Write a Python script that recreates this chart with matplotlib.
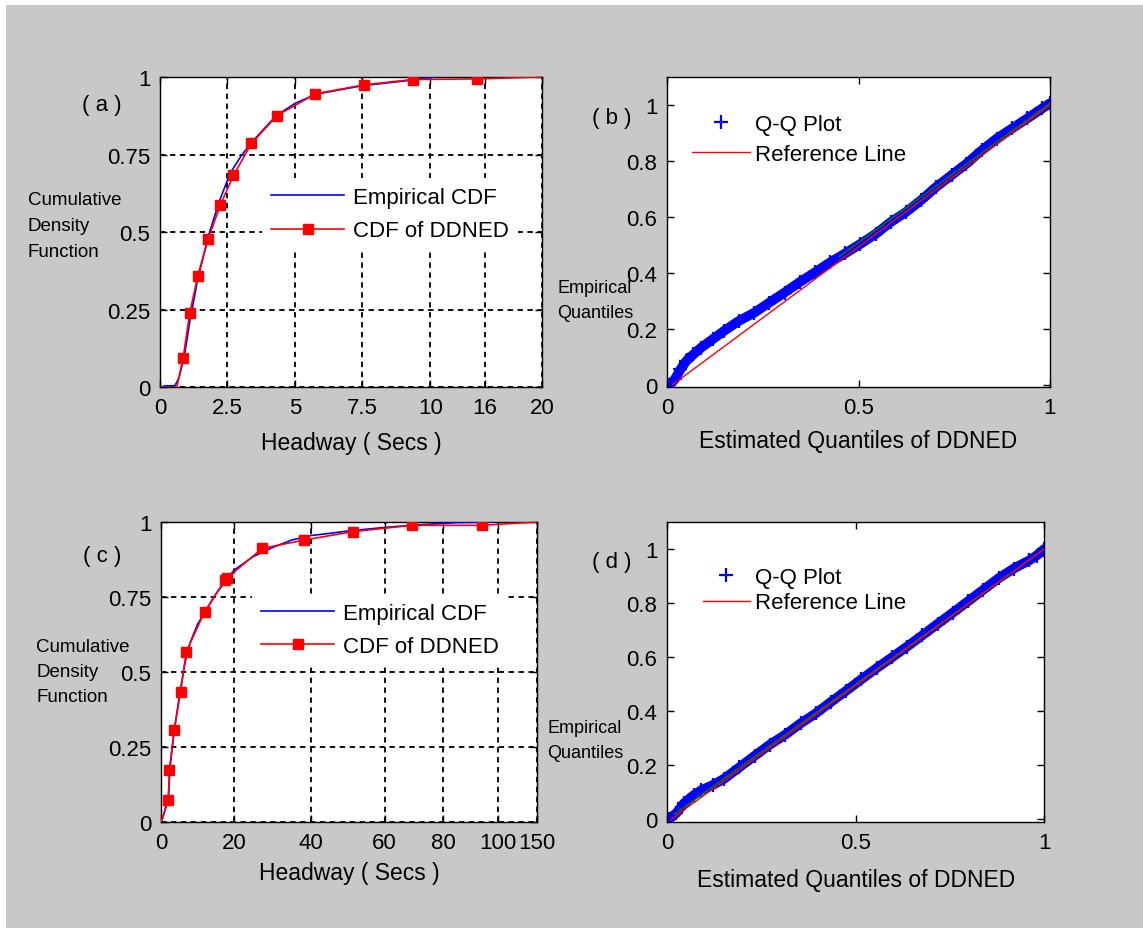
import numpy as np
import matplotlib
matplotlib.use("Agg")
import matplotlib.pyplot as plt
from matplotlib.patches import Rectangle

plt.rcParams["font.family"] = ["Liberation Sans", "DejaVu Sans"]

# ── Data ───────────────────────────────────────────────────────────────────────
# (a) headway CDF, short range
a_emp_x = [0, 0.2, 0.55, 0.7, 0.9, 1.1, 1.4, 1.8, 2.2, 2.6, 3.0, 3.4, 4.3, 5.0, 5.8, 7.5, 9.3, 10.5]
a_emp_y = [0, 0.005, 0.005, 0.03, 0.1, 0.21, 0.35, 0.49, 0.6, 0.69, 0.745, 0.79, 0.875, 0.915,
           0.945, 0.972, 0.99, 1.0]
a_fit_x = [0, 0.62, 0.86, 1.10, 1.40, 1.78, 2.23, 2.72, 3.39, 4.34, 5.76, 7.57, 9.34, 15.16, 20]
a_fit_y = [0, 0, 0.096, 0.239, 0.359, 0.477, 0.586, 0.683, 0.786, 0.876, 0.946, 0.975, 0.992,
           0.994, 1.0]
a_xticks = [0, 2.5, 5, 7.5, 10, 16, 20]
a_xticklabels = ["0", "2.5", "5", "7.5", "10", "16", "20"]

# (c) headway CDF, long range
c_emp_x = [0, 0.8, 2, 2.5, 3.5, 5, 6.5, 8, 10, 12, 15, 18, 20, 25, 30, 35, 40, 45, 50, 60, 70, 85, 100]
c_emp_y = [0, 0.03, 0.09, 0.19, 0.3, 0.42, 0.53, 0.6, 0.66, 0.7, 0.76, 0.81, 0.84, 0.885, 0.915,
           0.94, 0.955, 0.962, 0.97, 0.982, 0.99, 0.998, 1.0]
c_fit_x = [0, 1.96, 2.25, 3.6, 5.3, 6.9, 11.9, 17.5, 17.9, 27.3, 38.3, 51.4, 69.3, 94.1, 150]
c_fit_y = [0, 0.072, 0.175, 0.307, 0.435, 0.568, 0.701, 0.807, 0.812, 0.912, 0.94, 0.968, 0.989,
           0.989, 1.0]
c_xticks = [0, 20, 40, 60, 80, 100, 150]
c_xticklabels = ["0", "20", "40", "60", "80", "100", "150"]

cdf_yticks = [0, 0.25, 0.5, 0.75, 1]
cdf_yticklabels = ["0", "0.25", "0.5", "0.75", "1"]
cdf_ylabel_lines = ["Cumulative", "Density", "Function"]

# (b) Q-Q plot
b_qx = [0.005, 0.02, 0.035, 0.05, 0.069, 0.089, 0.119, 0.149, 0.188, 0.228, 0.267, 0.307, 0.347,
        0.386, 0.426, 0.465, 0.505, 0.545, 0.584, 0.624, 0.663, 0.703, 0.743, 0.782, 0.822,
        0.861, 0.901, 0.941, 0.980, 1.0]
b_qy = [0, 0.018, 0.054, 0.084, 0.108, 0.132, 0.162, 0.192, 0.228, 0.257, 0.293, 0.329, 0.367,
        0.401, 0.437, 0.469, 0.503, 0.539, 0.581, 0.617, 0.659, 0.707, 0.749, 0.790, 0.838,
        0.880, 0.916, 0.952, 0.988, 1.006]
b_ref_x = [0.015, 1.0]
b_ref_y = [0.0, 1.0]
b_fit_x = [0.45, 1.0]
b_fit_y = [0.458, 1.006]

# (d) Q-Q plot
d_qx = [0.005, 0.025, 0.045, 0.071, 0.091, 0.121, 0.152, 0.192, 0.232, 0.273, 0.313, 0.354,
        0.394, 0.434, 0.475, 0.515, 0.556, 0.596, 0.636, 0.677, 0.717, 0.758, 0.798, 0.838,
        0.879, 0.919, 0.960, 0.980, 1.0]
d_qy = [0, 0.024, 0.06, 0.09, 0.108, 0.127, 0.151, 0.193, 0.235, 0.277, 0.313, 0.355, 0.392,
        0.434, 0.476, 0.518, 0.560, 0.599, 0.639, 0.681, 0.723, 0.765, 0.807, 0.849, 0.892,
        0.928, 0.958, 0.976, 1.0]
d_ref_x = [0.01, 1.0]
d_ref_y = [0.0, 1.0]
d_fit_x = [0.02, 1.0]
d_fit_y = [0.02, 1.0]

qq_xticks = [0, 0.5, 1]
qq_xticklabels = ["0", "0.5", "1"]
qq_yticks = [0, 0.2, 0.4, 0.6, 0.8, 1]
qq_yticklabels = ["0", "0.2", "0.4", "0.6", "0.8", "1"]
qq_ylabel_lines = ["Empirical", "Quantiles"]

BLUE = "#0000ff"
RED = "#ff0000"
FS = 16


def knot_scale(ax, values, positions):
    """Piecewise-linear x axis (uneven tick spacing as in the original)."""
    fwd = lambda x: np.interp(x, values, positions)
    inv = lambda p: np.interp(p, positions, values)
    ax.set_xscale("function", functions=(fwd, inv))


def style_axes(ax):
    ax.set_facecolor("white")
    for s in ax.spines.values():
        s.set_linewidth(1.0)
        s.set_color("black")
    ax.tick_params(direction="in", top=True, right=True, length=5, width=1,
                   labelsize=FS, pad=7)


def side_label(ax, lines, x, y_center, step, size):
    """Horizontal, left-aligned multi-line y label (one text per line)."""
    n = len(lines)
    for i, line in enumerate(lines):
        y = y_center + (n - 1) / 2 * step - i * step
        ax.text(x, y, line, transform=ax.transAxes, ha="left", va="center", fontsize=size)


# ── Figure ─────────────────────────────────────────────────────────────────────
fig = plt.figure(figsize=(11.43, 9.29), dpi=100, facecolor="white")
fig.patches.append(Rectangle((6 / 1143, 0), 1, 1 - 6 / 929, transform=fig.transFigure,
                             facecolor="#c8c8c8", edgecolor="none", zorder=-1))

ax_a = fig.add_axes([0.140, 0.582, 0.334, 0.334])
ax_b = fig.add_axes([0.5836, 0.582, 0.335, 0.334])
ax_c = fig.add_axes([0.141, 0.114, 0.329, 0.323])
ax_d = fig.add_axes([0.5836, 0.114, 0.330, 0.323])

# ── CDF panels ────────────────────────────────────────────────────────────────
cdf_panels = [
    (ax_a, a_emp_x, a_emp_y, a_fit_x, a_fit_y, a_xticks, a_xticklabels,
     [0, 1, 2, 3, 4.01, 4.82, 5.66], 20, slice(2, 14), "( a )", (-0.152, 0.913),
     -0.346, 0.523, 0.0839, (0.267, 0.558), 9),
    (ax_c, c_emp_x, c_emp_y, c_fit_x, c_fit_y, c_xticks, c_xticklabels,
     [0, 1, 2.05, 3.06, 3.86, 4.61, 5.15], 150, slice(1, 14), "( c )", (-0.157, 0.887),
     -0.332, 0.503, 0.0833, (0.242, 0.64), 6),
]

for (ax, ex, ey, fx, fy, xt, xtl, knots, xmax, mevery, tag, tagpos, ylx, yly, ystep, legpos,
     lpad) in cdf_panels:
    style_axes(ax)
    knot_scale(ax, xt, knots)
    ax.plot(ex, ey, color=BLUE, linewidth=1.2, label="Empirical CDF", zorder=3)
    ax.plot(fx, fy, color=RED, linewidth=1.2, marker="s", markersize=7.5,
            markevery=mevery, label="CDF of DDNED", zorder=4)
    ax.set_xlim(0, xmax)
    ax.set_ylim(0, 1)
    ax.set_xticks(xt)
    ax.set_xticklabels(xtl)
    ax.set_yticks(cdf_yticks)
    ax.set_yticklabels(cdf_yticklabels)
    ax.grid(True, color="black", linestyle=(0, (3, 2.5)), linewidth=1.3)
    ax.set_axisbelow(True)
    ax.set_xlabel("Headway ( Secs )", fontsize=16.5, labelpad=lpad)
    side_label(ax, cdf_ylabel_lines, ylx, yly, ystep, 13.5)
    ax.text(tagpos[0], tagpos[1], tag, transform=ax.transAxes, ha="center", va="center",
            fontsize=16)
    leg = ax.legend(loc="center left", bbox_to_anchor=legpos, borderaxespad=0, fontsize=FS,
                    handlelength=3.3, handletextpad=0.4, labelspacing=0.55, borderpad=0.4,
                    frameon=True, fancybox=False, framealpha=1, numpoints=1)
    leg.get_frame().set_edgecolor("none")
    leg.get_frame().set_facecolor("white")

# ── Q-Q panels ────────────────────────────────────────────────────────────────
qq_panels = [
    (ax_b, b_qx, b_qy, b_ref_x, b_ref_y, b_fit_x, b_fit_y, "( b )", (-0.144, 0.871),
     -0.287, 0.28, 0.0806, (0.042, 0.80), 2.6, 0.4, 8),
    (ax_d, d_qx, d_qy, d_ref_x, d_ref_y, d_fit_x, d_fit_y, "( d )", (-0.146, 0.867),
     -0.318, 0.273, 0.0833, (0.072, 0.773), 2.1, 0.2, 11),
]

for (ax, qx, qy, rx, ry, gx, gy, tag, tagpos, ylx, yly, ystep, legpos, hl, ls,
     lpad) in qq_panels:
    style_axes(ax)
    ax.plot(qx, qy, color=BLUE, linewidth=7, solid_capstyle="round", zorder=2)
    ax.plot(qx, qy, linestyle="none", marker="+", markersize=10, markeredgewidth=1.6,
            color=BLUE, label="Q-Q Plot", zorder=2)
    ax.plot(gx, gy, color="#008000", linewidth=1.0, zorder=3)
    ax.plot(rx, ry, color=RED, linewidth=1.0, label="Reference Line", zorder=4)
    ax.set_xlim(0, 1)
    ax.set_ylim(-0.01, 1.1)
    ax.set_xticks(qq_xticks)
    ax.set_xticklabels(qq_xticklabels)
    ax.set_yticks(qq_yticks)
    ax.set_yticklabels(qq_yticklabels)
    ax.set_xlabel("Estimated Quantiles of DDNED", fontsize=16.5, labelpad=lpad)
    side_label(ax, qq_ylabel_lines, ylx, yly, ystep, 13)
    ax.text(tagpos[0], tagpos[1], tag, transform=ax.transAxes, ha="center", va="center",
            fontsize=16)
    leg = ax.legend(loc="center left", bbox_to_anchor=legpos, borderaxespad=0, fontsize=FS,
                    handlelength=hl, handletextpad=0.25, labelspacing=ls, borderpad=0.4,
                    frameon=False, numpoints=1)

plt.savefig("out.png", dpi=100)
